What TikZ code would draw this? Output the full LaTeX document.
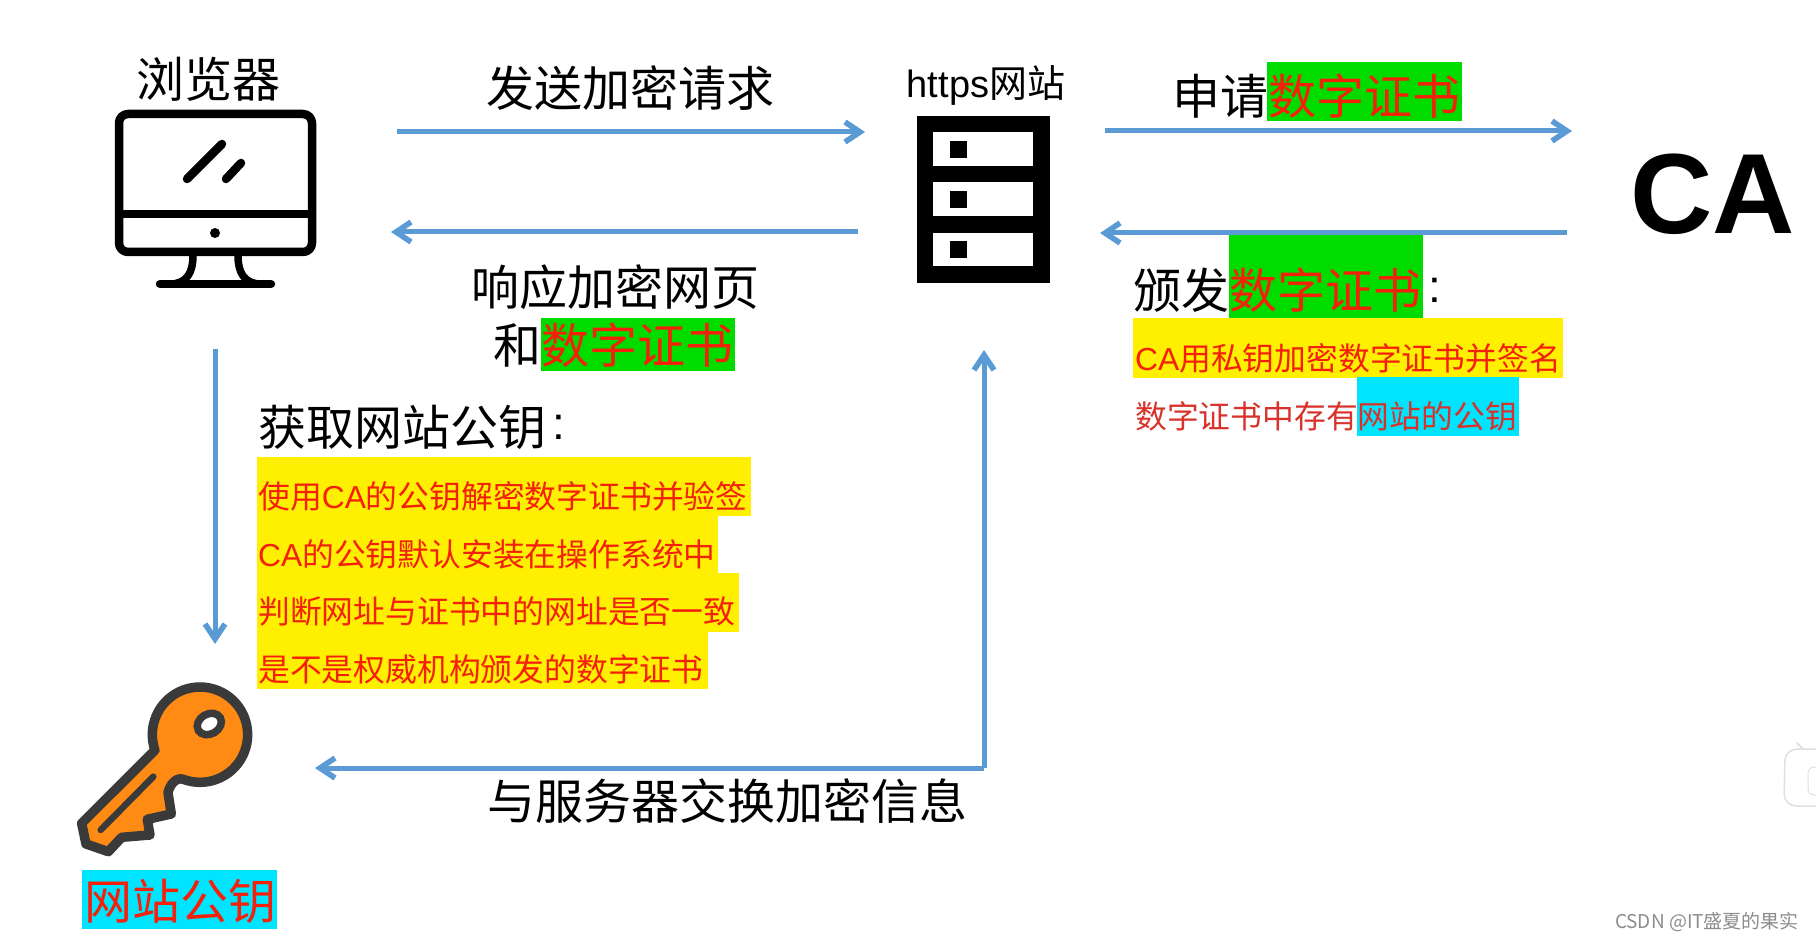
\documentclass[tikz,border=0pt]{standalone}
\usepackage{fontspec}
\setmainfont{Liberation Sans}
\newfontfamily\cjk{Noto Sans CJK SC}
\newfontfamily\lat{Liberation Sans}
\usetikzlibrary{arrows.meta}
\definecolor{arrowblue}{HTML}{5B9BD5}
\definecolor{hlgreen}{HTML}{00DC00}
\definecolor{hlyellow}{HTML}{FFEF00}
\definecolor{hlcyan}{HTML}{00E5FF}
\definecolor{redtext}{HTML}{F5200A}
\definecolor{softred}{HTML}{D8322A}
\definecolor{keyorange}{HTML}{FF8A14}
\definecolor{keydark}{HTML}{3A3A3A}
\tikzset{
  flow/.style={draw=arrowblue,line width=5pt,-{Straight Barb[length=15pt,width=20pt,line width=5.6pt]}},
  big/.style={inner sep=0pt,font=\cjk\fontsize{48}{48}\selectfont,text=black},
  bigred/.style={inner sep=0pt,font=\cjk\fontsize{48}{48}\selectfont,text=redtext},
  bigcolon/.style={inner sep=0pt,font=\lat\fontsize{46}{46}\selectfont,text=black},
  small/.style={inner sep=0pt,anchor=west,font=\cjk\fontsize{31.8}{32}\selectfont,text=redtext},
  icon/.style={line width=8.5pt,line cap=round,line join=round},
}
\begin{document}
\begin{tikzpicture}[x=1pt,y=-1pt]
\useasboundingbox (0,0) rectangle (1816,941);
\fill[white] (0,0) rectangle (1816,941);
% highlights
\fill[hlgreen] (1267,62) rectangle (1462,121);
\fill[hlgreen] (1229,235) rectangle (1423,318);
\fill[hlgreen] (541,318) rectangle (735,371);
\fill[hlyellow] (1133,318) rectangle (1563,378);
\fill[hlcyan] (1357,377) rectangle (1519,436);
\fill[hlyellow] (257,457) rectangle (751,516);
\fill[hlyellow] (257,516) rectangle (718,573);
\fill[hlyellow] (257,573) rectangle (739,632);
\fill[hlyellow] (257,632) rectangle (708,689);
\fill[hlcyan] (82,870) rectangle (277,929);
% texts
\node[big] (tBrowser) at (208,79) {浏览器};
\node[big] (tSend) at (630,88) {发送加密请求};
\node[big] (tResp) at (615,287) {响应加密网页};
\node[big,anchor=west] (tAnd) at (493,345) {和\textcolor{redtext}{数字证书}};
\node[big,anchor=west] (tGet) at (258,427) {获取网站公钥};
\node[bigcolon] (cGet) at (559,427) {:};
\node[small] (l1) at (258,496) {使用{\lat CA}的公钥解密数字证书并验签};
\node[small] (l2) at (258,554) {{\lat CA}的公钥默认安装在操作系统中};
\node[small] (l3) at (258,611) {判断网址与证书中的网址是否一致};
\node[small] (l4) at (258,669) {是不是权威机构颁发的数字证书};
\node[big] (tExch) at (727,801) {与服务器交换加密信息};
\node[bigred] (tPub) at (180,901) {网站公钥};
\node[inner sep=0pt,font=\fontsize{38}{38}\selectfont,text=black] (tHttps) at (986,85) {https{\cjk 网站}};
\node[big,anchor=west] (tApply) at (1172,96) {申请\textcolor{redtext}{数字证书}};
\node[big,anchor=west] (tIssue) at (1133,290) {颁发\textcolor{redtext}{数字证书}};
\node[bigcolon] (cIssue) at (1435,290) {:};
\node[small] (r1) at (1135,358) {{\lat CA}用私钥加密数字证书并签名};
\node[small,text=softred] (r2) at (1135,416) {数字证书中存有网站的公钥};
\node[inner sep=0pt,font=\fontsize{114}{114}\bfseries\selectfont] (tCA) at (1713,194) {CA};
\node[inner sep=0pt,font=\cjk\fontsize{19}{19}\selectfont,text=black!45] (tMark) at (1707,922) {CSDN @IT盛夏的果实};
% monitor
\draw[icon,rounded corners=9pt] (119,114) rectangle (312,252);
\draw[icon,line cap=butt] (119,214) -- (312,214);
\fill (215,233) circle (5pt);
\draw[icon] (187,179) -- (222,144);
\draw[icon] (226,179) -- (241,163);
\draw[icon,line width=7.5pt] (193,256) .. controls (193,272) and (187,284) .. (170,284);
\draw[icon,line width=7.5pt] (238,256) .. controls (238,272) and (244,284) .. (261,284);
\draw[icon] (160,284) -- (271,284);
% server
\fill[black] (917,116) rectangle (1050,283);
\fill[white] (933,132) rectangle (1033,166);
\fill[white] (933,182) rectangle (1033,216);
\fill[white] (933,233) rectangle (1033,266);
\fill[black] (950,141) rectangle (967,158);
\fill[black] (950,191) rectangle (967,208);
\fill[black] (950,241) rectangle (967,258);
% key
\begin{scope}[shift={(40,660)},x=0.3333pt,y=-0.3333pt]
\draw[draw=keydark,fill=keyorange,line width=9.5pt,line join=round]
  plot[smooth,domain=161:470,samples=60] ({480+143*cos(\x)},{224+143*sin(\x)})
  .. controls (410,350) and (390,372) .. (384,398) -- (394,462) -- (322,478) -- (330,525) -- (245,532) -- (205,575) -- (138,552) -- (125,490) -- cycle;
\draw[draw=keydark,line width=6.5pt,line cap=round] (182,510) -- (340,350);
\draw[draw=keydark,fill=white,line width=7.5pt,rotate around={30:(508,192)}] (508,192) ellipse [x radius=38,y radius=30];
\end{scope}
% tv badge
\draw[black!12,line width=2pt,line cap=round] (1797,743) -- (1806,752);
\draw[black!12,fill=white,line width=1.5pt,rounded corners=12pt] (1816,749) -- (1785,749) -- (1784,806) -- (1816,806);
\draw[black!12,fill=white,line width=1pt,rounded corners=6pt] (1820,767) -- (1808,767) -- (1808,795) -- (1820,795);
% connectors
\coordinate (c1a) at (397,132); \coordinate (c1b) at (865,132);
\coordinate (c2a) at (858,232); \coordinate (c2b) at (391,232);
\coordinate (c3a) at (1105,131); \coordinate (c3b) at (1572,131);
\coordinate (c4a) at (1567,233); \coordinate (c4b) at (1100,233);
\coordinate (c5a) at (215,349); \coordinate (c5b) at (215,644);
\coordinate (c6a) at (315,768); \coordinate (c6m) at (984,768); \coordinate (c6b) at (984,350);
\draw[flow] (c1a) -- (c1b);
\draw[flow] (c2a) -- (c2b);
\draw[flow] (c3a) -- (c3b);
\draw[flow] (c4a) -- (c4b);
\draw[flow] (c5a) -- (c5b);
\draw[flow] (c6m) -- (c6a);
\draw[flow] (c6m) -- (c6b);
\end{tikzpicture}
\end{document}
